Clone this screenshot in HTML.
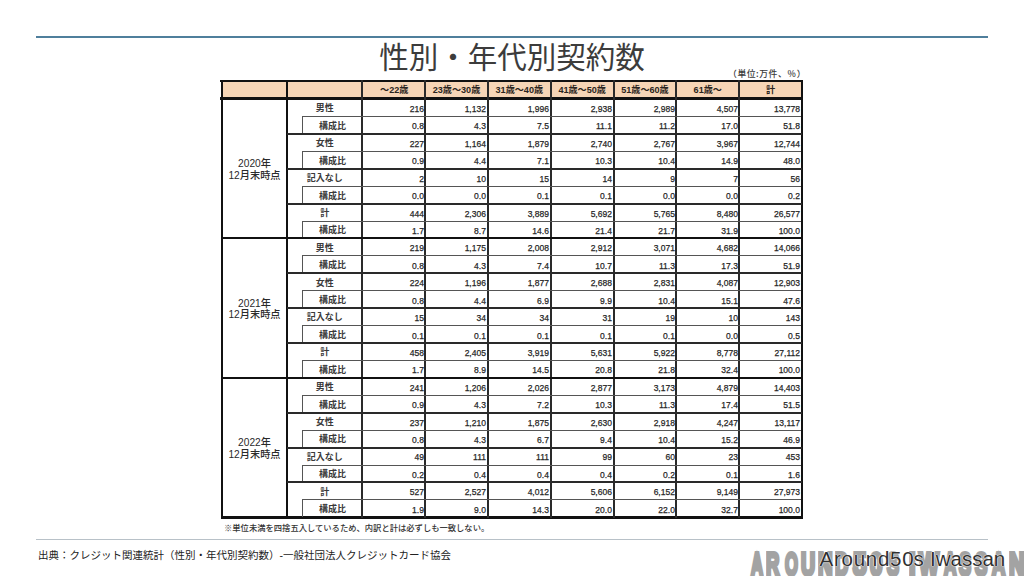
<!DOCTYPE html>
<html lang="ja"><head><meta charset="utf-8">
<style>
*{margin:0;padding:0;box-sizing:border-box}
html,body{width:1024px;height:576px;background:#fff;overflow:hidden}
body{position:relative;font-family:"Liberation Sans","Noto Sans CJK JP",sans-serif;color:#333}
div{position:absolute}
.topline{left:36px;top:36px;width:952px;height:2px;background:#4f7f9c}
.botline{left:36px;top:539px;width:952px;height:1px;background:#b8c1c8}
.title{left:0;width:1024px;top:33.5px;text-align:center;font-size:29.5px;line-height:42px;color:#3c3c3c;font-family:"Noto Sans CJK JP",sans-serif}
.unit{left:700px;width:106px;top:67.8px;text-align:right;font-size:8.8px;line-height:12px;font-weight:500;letter-spacing:0.55px;color:#3a3a3a;font-family:"Noto Sans CJK JP",sans-serif}
.hd{background:#f6d5b6}
.ht{text-align:center;font-size:9.1px;line-height:15px;padding-top:0.6px;font-weight:700;color:#2a2420;font-family:"Liberation Sans","Noto Sans CJK JP",sans-serif}
.ln{background:#111}
.v{background:#2a2a2a}
.thin{background:#555}
.mid{background:#2a2a2a}
.lb{text-align:center;font-size:9px;line-height:17.4px;padding-top:1.3px;font-weight:700;color:#3a3a3a}
.nm{text-align:right;font-size:9.6px;line-height:17.4px;padding-top:0.9px;color:#262626;transform-origin:100% 50%;transform:scaleX(0.89);-webkit-text-stroke:0.25px #262626}
.yr{text-align:center;font-size:10.2px;line-height:11.7px;padding-top:1px;font-weight:500;color:#2a2a2a}
.note{left:224px;top:521.5px;font-size:8.3px;font-weight:500;line-height:12px;color:#333;white-space:nowrap}
.src{left:38px;top:548px;font-size:10.5px;line-height:14px;color:#222;white-space:nowrap}
.wl{top:539px;font-family:"Liberation Sans",sans-serif;font-weight:bold;font-size:32px;line-height:50px;color:#a3a3a3;-webkit-text-stroke:4px #a3a3a3;white-space:nowrap;transform-origin:0 0}
.wm2{top:546.5px;font-family:"Liberation Sans",sans-serif;font-size:20.5px;line-height:24px;color:#303030;white-space:nowrap;text-shadow:0 0 1px #fff,0 0 1px #fff,0 0 1px #fff}
</style></head><body>
<div class="topline"></div>
<div class="title">性別・年代別契約数</div>
<div class="unit">（単位:万件、％）</div>
<div class="hd" style="left:222px;top:82px;width:579px;height:15px"></div>
<div class="ht" style="left:363.30px;width:61.81px;top:82px">～22歳</div>
<div class="ht" style="left:426.11px;width:60.81px;top:82px">23歳～30歳</div>
<div class="ht" style="left:488.93px;width:60.81px;top:82px">31歳～40歳</div>
<div class="ht" style="left:551.74px;width:60.81px;top:82px">41歳～50歳</div>
<div class="ht" style="left:614.56px;width:60.81px;top:82px">51歳～60歳</div>
<div class="ht" style="left:677.37px;width:60.81px;top:82px">61歳～</div>
<div class="ht" style="left:740.19px;width:60.81px;top:82px">計</div>
<div class="ln" style="left:220px;top:80px;width:583px;height:2px"></div>
<div class="ln" style="left:221px;top:80px;width:2px;height:438px"></div>
<div class="ln" style="left:801px;top:80px;width:2px;height:438px"></div>
<div class="ln" style="left:221px;top:516px;width:582px;height:2.6px"></div>
<div class="ln" style="left:220px;top:97px;width:583px;height:3px"></div>
<div class="ln" style="left:285.5px;top:80px;width:2px;height:438px"></div>
<div class="ln v" style="left:361px;top:80px;width:2px;height:438px"></div>
<div class="ln v" style="left:424px;top:80px;width:2px;height:438px"></div>
<div class="ln v" style="left:487px;top:80px;width:2px;height:438px"></div>
<div class="ln v" style="left:550px;top:80px;width:2px;height:438px"></div>
<div class="ln v" style="left:613px;top:80px;width:2px;height:438px"></div>
<div class="ln v" style="left:675px;top:80px;width:2px;height:438px"></div>
<div class="ln v" style="left:738px;top:80px;width:2px;height:438px"></div>
<div class="yr" style="left:223px;width:63px;top:157.29px">2020年<br>12月末時点</div>
<div class="lb" style="left:287px;width:75.30px;top:99.09px;height:17.425px">男性</div>
<div class="nm" style="left:365.51px;width:58px;top:99.09px;height:17.425px">216</div>
<div class="nm" style="left:428.33px;width:58px;top:99.09px;height:17.425px">1,132</div>
<div class="nm" style="left:491.14px;width:58px;top:99.09px;height:17.425px">1,996</div>
<div class="nm" style="left:553.96px;width:58px;top:99.09px;height:17.425px">2,938</div>
<div class="nm" style="left:616.77px;width:58px;top:99.09px;height:17.425px">2,989</div>
<div class="nm" style="left:679.59px;width:58px;top:99.09px;height:17.425px">4,507</div>
<div class="nm" style="left:742.40px;width:58px;top:99.09px;height:17.425px">13,778</div>
<div class="lb" style="left:302.80px;width:59.50px;top:116.52px;height:17.425px">構成比</div>
<div class="thin" style="left:302.30px;top:116.52px;width:1.2px;height:17.43px"></div>
<div class="thin" style="left:302.30px;top:116.02px;width:499.20px;height:1px"></div>
<div class="nm" style="left:365.51px;width:58px;top:116.52px;height:17.425px">0.8</div>
<div class="nm" style="left:428.33px;width:58px;top:116.52px;height:17.425px">4.3</div>
<div class="nm" style="left:491.14px;width:58px;top:116.52px;height:17.425px">7.5</div>
<div class="nm" style="left:553.96px;width:58px;top:116.52px;height:17.425px">11.1</div>
<div class="nm" style="left:616.77px;width:58px;top:116.52px;height:17.425px">11.2</div>
<div class="nm" style="left:679.59px;width:58px;top:116.52px;height:17.425px">17.0</div>
<div class="nm" style="left:742.40px;width:58px;top:116.52px;height:17.425px">51.8</div>
<div class="lb" style="left:287px;width:75.30px;top:133.94px;height:17.425px">女性</div>
<div class="mid" style="left:287px;top:133px;width:515px;height:2px"></div>
<div class="nm" style="left:365.51px;width:58px;top:133.94px;height:17.425px">227</div>
<div class="nm" style="left:428.33px;width:58px;top:133.94px;height:17.425px">1,164</div>
<div class="nm" style="left:491.14px;width:58px;top:133.94px;height:17.425px">1,879</div>
<div class="nm" style="left:553.96px;width:58px;top:133.94px;height:17.425px">2,740</div>
<div class="nm" style="left:616.77px;width:58px;top:133.94px;height:17.425px">2,767</div>
<div class="nm" style="left:679.59px;width:58px;top:133.94px;height:17.425px">3,967</div>
<div class="nm" style="left:742.40px;width:58px;top:133.94px;height:17.425px">12,744</div>
<div class="lb" style="left:302.80px;width:59.50px;top:151.37px;height:17.425px">構成比</div>
<div class="thin" style="left:302.30px;top:151.37px;width:1.2px;height:17.43px"></div>
<div class="thin" style="left:302.30px;top:150.87px;width:499.20px;height:1px"></div>
<div class="nm" style="left:365.51px;width:58px;top:151.37px;height:17.425px">0.9</div>
<div class="nm" style="left:428.33px;width:58px;top:151.37px;height:17.425px">4.4</div>
<div class="nm" style="left:491.14px;width:58px;top:151.37px;height:17.425px">7.1</div>
<div class="nm" style="left:553.96px;width:58px;top:151.37px;height:17.425px">10.3</div>
<div class="nm" style="left:616.77px;width:58px;top:151.37px;height:17.425px">10.4</div>
<div class="nm" style="left:679.59px;width:58px;top:151.37px;height:17.425px">14.9</div>
<div class="nm" style="left:742.40px;width:58px;top:151.37px;height:17.425px">48.0</div>
<div class="lb" style="left:287px;width:75.30px;top:168.79px;height:17.425px">記入なし</div>
<div class="mid" style="left:287px;top:168px;width:515px;height:2px"></div>
<div class="nm" style="left:365.51px;width:58px;top:168.79px;height:17.425px">2</div>
<div class="nm" style="left:428.33px;width:58px;top:168.79px;height:17.425px">10</div>
<div class="nm" style="left:491.14px;width:58px;top:168.79px;height:17.425px">15</div>
<div class="nm" style="left:553.96px;width:58px;top:168.79px;height:17.425px">14</div>
<div class="nm" style="left:616.77px;width:58px;top:168.79px;height:17.425px">9</div>
<div class="nm" style="left:679.59px;width:58px;top:168.79px;height:17.425px">7</div>
<div class="nm" style="left:742.40px;width:58px;top:168.79px;height:17.425px">56</div>
<div class="lb" style="left:302.80px;width:59.50px;top:186.22px;height:17.425px">構成比</div>
<div class="thin" style="left:302.30px;top:186.22px;width:1.2px;height:17.43px"></div>
<div class="thin" style="left:302.30px;top:185.72px;width:499.20px;height:1px"></div>
<div class="nm" style="left:365.51px;width:58px;top:186.22px;height:17.425px">0.0</div>
<div class="nm" style="left:428.33px;width:58px;top:186.22px;height:17.425px">0.0</div>
<div class="nm" style="left:491.14px;width:58px;top:186.22px;height:17.425px">0.1</div>
<div class="nm" style="left:553.96px;width:58px;top:186.22px;height:17.425px">0.1</div>
<div class="nm" style="left:616.77px;width:58px;top:186.22px;height:17.425px">0.0</div>
<div class="nm" style="left:679.59px;width:58px;top:186.22px;height:17.425px">0.0</div>
<div class="nm" style="left:742.40px;width:58px;top:186.22px;height:17.425px">0.2</div>
<div class="lb" style="left:287px;width:75.30px;top:203.64px;height:17.425px">計</div>
<div class="mid" style="left:287px;top:203px;width:515px;height:2px"></div>
<div class="nm" style="left:365.51px;width:58px;top:203.64px;height:17.425px">444</div>
<div class="nm" style="left:428.33px;width:58px;top:203.64px;height:17.425px">2,306</div>
<div class="nm" style="left:491.14px;width:58px;top:203.64px;height:17.425px">3,889</div>
<div class="nm" style="left:553.96px;width:58px;top:203.64px;height:17.425px">5,692</div>
<div class="nm" style="left:616.77px;width:58px;top:203.64px;height:17.425px">5,765</div>
<div class="nm" style="left:679.59px;width:58px;top:203.64px;height:17.425px">8,480</div>
<div class="nm" style="left:742.40px;width:58px;top:203.64px;height:17.425px">26,577</div>
<div class="lb" style="left:302.80px;width:59.50px;top:221.06px;height:17.425px">構成比</div>
<div class="thin" style="left:302.30px;top:221.06px;width:1.2px;height:17.43px"></div>
<div class="thin" style="left:302.30px;top:220.56px;width:499.20px;height:1px"></div>
<div class="nm" style="left:365.51px;width:58px;top:221.06px;height:17.425px">1.7</div>
<div class="nm" style="left:428.33px;width:58px;top:221.06px;height:17.425px">8.7</div>
<div class="nm" style="left:491.14px;width:58px;top:221.06px;height:17.425px">14.6</div>
<div class="nm" style="left:553.96px;width:58px;top:221.06px;height:17.425px">21.4</div>
<div class="nm" style="left:616.77px;width:58px;top:221.06px;height:17.425px">21.7</div>
<div class="nm" style="left:679.59px;width:58px;top:221.06px;height:17.425px">31.9</div>
<div class="nm" style="left:742.40px;width:58px;top:221.06px;height:17.425px">100.0</div>
<div class="yr" style="left:223px;width:63px;top:296.69px">2021年<br>12月末時点</div>
<div class="lb" style="left:287px;width:75.30px;top:238.49px;height:17.425px">男性</div>
<div class="nm" style="left:365.51px;width:58px;top:238.49px;height:17.425px">219</div>
<div class="nm" style="left:428.33px;width:58px;top:238.49px;height:17.425px">1,175</div>
<div class="nm" style="left:491.14px;width:58px;top:238.49px;height:17.425px">2,008</div>
<div class="nm" style="left:553.96px;width:58px;top:238.49px;height:17.425px">2,912</div>
<div class="nm" style="left:616.77px;width:58px;top:238.49px;height:17.425px">3,071</div>
<div class="nm" style="left:679.59px;width:58px;top:238.49px;height:17.425px">4,682</div>
<div class="nm" style="left:742.40px;width:58px;top:238.49px;height:17.425px">14,066</div>
<div class="lb" style="left:302.80px;width:59.50px;top:255.92px;height:17.425px">構成比</div>
<div class="thin" style="left:302.30px;top:255.92px;width:1.2px;height:17.43px"></div>
<div class="thin" style="left:302.30px;top:255.42px;width:499.20px;height:1px"></div>
<div class="nm" style="left:365.51px;width:58px;top:255.92px;height:17.425px">0.8</div>
<div class="nm" style="left:428.33px;width:58px;top:255.92px;height:17.425px">4.3</div>
<div class="nm" style="left:491.14px;width:58px;top:255.92px;height:17.425px">7.4</div>
<div class="nm" style="left:553.96px;width:58px;top:255.92px;height:17.425px">10.7</div>
<div class="nm" style="left:616.77px;width:58px;top:255.92px;height:17.425px">11.3</div>
<div class="nm" style="left:679.59px;width:58px;top:255.92px;height:17.425px">17.3</div>
<div class="nm" style="left:742.40px;width:58px;top:255.92px;height:17.425px">51.9</div>
<div class="lb" style="left:287px;width:75.30px;top:273.34px;height:17.425px">女性</div>
<div class="mid" style="left:287px;top:272px;width:515px;height:2px"></div>
<div class="nm" style="left:365.51px;width:58px;top:273.34px;height:17.425px">224</div>
<div class="nm" style="left:428.33px;width:58px;top:273.34px;height:17.425px">1,196</div>
<div class="nm" style="left:491.14px;width:58px;top:273.34px;height:17.425px">1,877</div>
<div class="nm" style="left:553.96px;width:58px;top:273.34px;height:17.425px">2,688</div>
<div class="nm" style="left:616.77px;width:58px;top:273.34px;height:17.425px">2,831</div>
<div class="nm" style="left:679.59px;width:58px;top:273.34px;height:17.425px">4,087</div>
<div class="nm" style="left:742.40px;width:58px;top:273.34px;height:17.425px">12,903</div>
<div class="lb" style="left:302.80px;width:59.50px;top:290.76px;height:17.425px">構成比</div>
<div class="thin" style="left:302.30px;top:290.76px;width:1.2px;height:17.43px"></div>
<div class="thin" style="left:302.30px;top:290.26px;width:499.20px;height:1px"></div>
<div class="nm" style="left:365.51px;width:58px;top:290.76px;height:17.425px">0.8</div>
<div class="nm" style="left:428.33px;width:58px;top:290.76px;height:17.425px">4.4</div>
<div class="nm" style="left:491.14px;width:58px;top:290.76px;height:17.425px">6.9</div>
<div class="nm" style="left:553.96px;width:58px;top:290.76px;height:17.425px">9.9</div>
<div class="nm" style="left:616.77px;width:58px;top:290.76px;height:17.425px">10.4</div>
<div class="nm" style="left:679.59px;width:58px;top:290.76px;height:17.425px">15.1</div>
<div class="nm" style="left:742.40px;width:58px;top:290.76px;height:17.425px">47.6</div>
<div class="lb" style="left:287px;width:75.30px;top:308.19px;height:17.425px">記入なし</div>
<div class="mid" style="left:287px;top:307px;width:515px;height:2px"></div>
<div class="nm" style="left:365.51px;width:58px;top:308.19px;height:17.425px">15</div>
<div class="nm" style="left:428.33px;width:58px;top:308.19px;height:17.425px">34</div>
<div class="nm" style="left:491.14px;width:58px;top:308.19px;height:17.425px">34</div>
<div class="nm" style="left:553.96px;width:58px;top:308.19px;height:17.425px">31</div>
<div class="nm" style="left:616.77px;width:58px;top:308.19px;height:17.425px">19</div>
<div class="nm" style="left:679.59px;width:58px;top:308.19px;height:17.425px">10</div>
<div class="nm" style="left:742.40px;width:58px;top:308.19px;height:17.425px">143</div>
<div class="lb" style="left:302.80px;width:59.50px;top:325.62px;height:17.425px">構成比</div>
<div class="thin" style="left:302.30px;top:325.62px;width:1.2px;height:17.43px"></div>
<div class="thin" style="left:302.30px;top:325.12px;width:499.20px;height:1px"></div>
<div class="nm" style="left:365.51px;width:58px;top:325.62px;height:17.425px">0.1</div>
<div class="nm" style="left:428.33px;width:58px;top:325.62px;height:17.425px">0.1</div>
<div class="nm" style="left:491.14px;width:58px;top:325.62px;height:17.425px">0.1</div>
<div class="nm" style="left:553.96px;width:58px;top:325.62px;height:17.425px">0.1</div>
<div class="nm" style="left:616.77px;width:58px;top:325.62px;height:17.425px">0.1</div>
<div class="nm" style="left:679.59px;width:58px;top:325.62px;height:17.425px">0.0</div>
<div class="nm" style="left:742.40px;width:58px;top:325.62px;height:17.425px">0.5</div>
<div class="lb" style="left:287px;width:75.30px;top:343.04px;height:17.425px">計</div>
<div class="mid" style="left:287px;top:342px;width:515px;height:2px"></div>
<div class="nm" style="left:365.51px;width:58px;top:343.04px;height:17.425px">458</div>
<div class="nm" style="left:428.33px;width:58px;top:343.04px;height:17.425px">2,405</div>
<div class="nm" style="left:491.14px;width:58px;top:343.04px;height:17.425px">3,919</div>
<div class="nm" style="left:553.96px;width:58px;top:343.04px;height:17.425px">5,631</div>
<div class="nm" style="left:616.77px;width:58px;top:343.04px;height:17.425px">5,922</div>
<div class="nm" style="left:679.59px;width:58px;top:343.04px;height:17.425px">8,778</div>
<div class="nm" style="left:742.40px;width:58px;top:343.04px;height:17.425px">27,112</div>
<div class="lb" style="left:302.80px;width:59.50px;top:360.47px;height:17.425px">構成比</div>
<div class="thin" style="left:302.30px;top:360.47px;width:1.2px;height:17.43px"></div>
<div class="thin" style="left:302.30px;top:359.97px;width:499.20px;height:1px"></div>
<div class="nm" style="left:365.51px;width:58px;top:360.47px;height:17.425px">1.7</div>
<div class="nm" style="left:428.33px;width:58px;top:360.47px;height:17.425px">8.9</div>
<div class="nm" style="left:491.14px;width:58px;top:360.47px;height:17.425px">14.5</div>
<div class="nm" style="left:553.96px;width:58px;top:360.47px;height:17.425px">20.8</div>
<div class="nm" style="left:616.77px;width:58px;top:360.47px;height:17.425px">21.8</div>
<div class="nm" style="left:679.59px;width:58px;top:360.47px;height:17.425px">32.4</div>
<div class="nm" style="left:742.40px;width:58px;top:360.47px;height:17.425px">100.0</div>
<div class="ln" style="left:221px;top:237.49px;width:582px;height:2px"></div>
<div class="yr" style="left:223px;width:63px;top:436.09px">2022年<br>12月末時点</div>
<div class="lb" style="left:287px;width:75.30px;top:377.89px;height:17.425px">男性</div>
<div class="nm" style="left:365.51px;width:58px;top:377.89px;height:17.425px">241</div>
<div class="nm" style="left:428.33px;width:58px;top:377.89px;height:17.425px">1,206</div>
<div class="nm" style="left:491.14px;width:58px;top:377.89px;height:17.425px">2,026</div>
<div class="nm" style="left:553.96px;width:58px;top:377.89px;height:17.425px">2,877</div>
<div class="nm" style="left:616.77px;width:58px;top:377.89px;height:17.425px">3,173</div>
<div class="nm" style="left:679.59px;width:58px;top:377.89px;height:17.425px">4,879</div>
<div class="nm" style="left:742.40px;width:58px;top:377.89px;height:17.425px">14,403</div>
<div class="lb" style="left:302.80px;width:59.50px;top:395.31px;height:17.425px">構成比</div>
<div class="thin" style="left:302.30px;top:395.31px;width:1.2px;height:17.43px"></div>
<div class="thin" style="left:302.30px;top:394.81px;width:499.20px;height:1px"></div>
<div class="nm" style="left:365.51px;width:58px;top:395.31px;height:17.425px">0.9</div>
<div class="nm" style="left:428.33px;width:58px;top:395.31px;height:17.425px">4.3</div>
<div class="nm" style="left:491.14px;width:58px;top:395.31px;height:17.425px">7.2</div>
<div class="nm" style="left:553.96px;width:58px;top:395.31px;height:17.425px">10.3</div>
<div class="nm" style="left:616.77px;width:58px;top:395.31px;height:17.425px">11.3</div>
<div class="nm" style="left:679.59px;width:58px;top:395.31px;height:17.425px">17.4</div>
<div class="nm" style="left:742.40px;width:58px;top:395.31px;height:17.425px">51.5</div>
<div class="lb" style="left:287px;width:75.30px;top:412.74px;height:17.425px">女性</div>
<div class="mid" style="left:287px;top:412px;width:515px;height:2px"></div>
<div class="nm" style="left:365.51px;width:58px;top:412.74px;height:17.425px">237</div>
<div class="nm" style="left:428.33px;width:58px;top:412.74px;height:17.425px">1,210</div>
<div class="nm" style="left:491.14px;width:58px;top:412.74px;height:17.425px">1,875</div>
<div class="nm" style="left:553.96px;width:58px;top:412.74px;height:17.425px">2,630</div>
<div class="nm" style="left:616.77px;width:58px;top:412.74px;height:17.425px">2,918</div>
<div class="nm" style="left:679.59px;width:58px;top:412.74px;height:17.425px">4,247</div>
<div class="nm" style="left:742.40px;width:58px;top:412.74px;height:17.425px">13,117</div>
<div class="lb" style="left:302.80px;width:59.50px;top:430.16px;height:17.425px">構成比</div>
<div class="thin" style="left:302.30px;top:430.16px;width:1.2px;height:17.43px"></div>
<div class="thin" style="left:302.30px;top:429.66px;width:499.20px;height:1px"></div>
<div class="nm" style="left:365.51px;width:58px;top:430.16px;height:17.425px">0.8</div>
<div class="nm" style="left:428.33px;width:58px;top:430.16px;height:17.425px">4.3</div>
<div class="nm" style="left:491.14px;width:58px;top:430.16px;height:17.425px">6.7</div>
<div class="nm" style="left:553.96px;width:58px;top:430.16px;height:17.425px">9.4</div>
<div class="nm" style="left:616.77px;width:58px;top:430.16px;height:17.425px">10.4</div>
<div class="nm" style="left:679.59px;width:58px;top:430.16px;height:17.425px">15.2</div>
<div class="nm" style="left:742.40px;width:58px;top:430.16px;height:17.425px">46.9</div>
<div class="lb" style="left:287px;width:75.30px;top:447.59px;height:17.425px">記入なし</div>
<div class="mid" style="left:287px;top:447px;width:515px;height:2px"></div>
<div class="nm" style="left:365.51px;width:58px;top:447.59px;height:17.425px">49</div>
<div class="nm" style="left:428.33px;width:58px;top:447.59px;height:17.425px">111</div>
<div class="nm" style="left:491.14px;width:58px;top:447.59px;height:17.425px">111</div>
<div class="nm" style="left:553.96px;width:58px;top:447.59px;height:17.425px">99</div>
<div class="nm" style="left:616.77px;width:58px;top:447.59px;height:17.425px">60</div>
<div class="nm" style="left:679.59px;width:58px;top:447.59px;height:17.425px">23</div>
<div class="nm" style="left:742.40px;width:58px;top:447.59px;height:17.425px">453</div>
<div class="lb" style="left:302.80px;width:59.50px;top:465.01px;height:17.425px">構成比</div>
<div class="thin" style="left:302.30px;top:465.01px;width:1.2px;height:17.43px"></div>
<div class="thin" style="left:302.30px;top:464.51px;width:499.20px;height:1px"></div>
<div class="nm" style="left:365.51px;width:58px;top:465.01px;height:17.425px">0.2</div>
<div class="nm" style="left:428.33px;width:58px;top:465.01px;height:17.425px">0.4</div>
<div class="nm" style="left:491.14px;width:58px;top:465.01px;height:17.425px">0.4</div>
<div class="nm" style="left:553.96px;width:58px;top:465.01px;height:17.425px">0.4</div>
<div class="nm" style="left:616.77px;width:58px;top:465.01px;height:17.425px">0.2</div>
<div class="nm" style="left:679.59px;width:58px;top:465.01px;height:17.425px">0.1</div>
<div class="nm" style="left:742.40px;width:58px;top:465.01px;height:17.425px">1.6</div>
<div class="lb" style="left:287px;width:75.30px;top:482.44px;height:17.425px">計</div>
<div class="mid" style="left:287px;top:481px;width:515px;height:2px"></div>
<div class="nm" style="left:365.51px;width:58px;top:482.44px;height:17.425px">527</div>
<div class="nm" style="left:428.33px;width:58px;top:482.44px;height:17.425px">2,527</div>
<div class="nm" style="left:491.14px;width:58px;top:482.44px;height:17.425px">4,012</div>
<div class="nm" style="left:553.96px;width:58px;top:482.44px;height:17.425px">5,606</div>
<div class="nm" style="left:616.77px;width:58px;top:482.44px;height:17.425px">6,152</div>
<div class="nm" style="left:679.59px;width:58px;top:482.44px;height:17.425px">9,149</div>
<div class="nm" style="left:742.40px;width:58px;top:482.44px;height:17.425px">27,973</div>
<div class="lb" style="left:302.80px;width:59.50px;top:499.87px;height:17.425px">構成比</div>
<div class="thin" style="left:302.30px;top:499.87px;width:1.2px;height:17.43px"></div>
<div class="thin" style="left:302.30px;top:499.37px;width:499.20px;height:1px"></div>
<div class="nm" style="left:365.51px;width:58px;top:499.87px;height:17.425px">1.9</div>
<div class="nm" style="left:428.33px;width:58px;top:499.87px;height:17.425px">9.0</div>
<div class="nm" style="left:491.14px;width:58px;top:499.87px;height:17.425px">14.3</div>
<div class="nm" style="left:553.96px;width:58px;top:499.87px;height:17.425px">20.0</div>
<div class="nm" style="left:616.77px;width:58px;top:499.87px;height:17.425px">22.0</div>
<div class="nm" style="left:679.59px;width:58px;top:499.87px;height:17.425px">32.7</div>
<div class="nm" style="left:742.40px;width:58px;top:499.87px;height:17.425px">100.0</div>
<div class="ln" style="left:221px;top:376.89px;width:582px;height:2px"></div>
<div class="note">※単位未満を四捨五入しているため、内訳と計は必ずしも一致しない。</div>
<div class="botline"></div>
<div class="src">出典：クレジット関連統計（性別・年代別契約数）-一般社団法人クレジットカード協会</div>
<div class="wl" style="left:750.54px;transform:scaleX(0.519)">A</div>
<div class="wl" style="left:766.00px;transform:scaleX(0.577)">R</div>
<div class="wl" style="left:784.52px;transform:scaleX(0.519)">O</div>
<div class="wl" style="left:801.00px;transform:scaleX(0.609)">U</div>
<div class="wl" style="left:818.00px;transform:scaleX(0.630)">N</div>
<div class="wl" style="left:835.00px;transform:scaleX(0.583)">D</div>
<div class="wl" style="left:852.75px;transform:scaleX(0.750)">5</div>
<div class="wl" style="left:869.70px;transform:scaleX(0.700)">0</div>
<div class="wl" style="left:887.07px;transform:scaleX(0.565)">S</div>
<div class="wl" style="left:909.00px;transform:scaleX(0.722)">I</div>
<div class="wl" style="left:919.31px;transform:scaleX(0.657)">W</div>
<div class="wl" style="left:943.57px;transform:scaleX(0.537)">A</div>
<div class="wl" style="left:958.57px;transform:scaleX(0.565)">S</div>
<div class="wl" style="left:975.08px;transform:scaleX(0.576)">S</div>
<div class="wl" style="left:992.15px;transform:scaleX(0.574)">A</div>
<div class="wl" style="left:1009.00px;transform:scaleX(0.674)">N</div>
<div class="wm2" style="left:819.5px;letter-spacing:0.75px">Around50</div><div class="wm2" style="left:913.5px">s</div><div class="wm2" style="left:930px;letter-spacing:0px">Iwassan</div>
</body></html>
